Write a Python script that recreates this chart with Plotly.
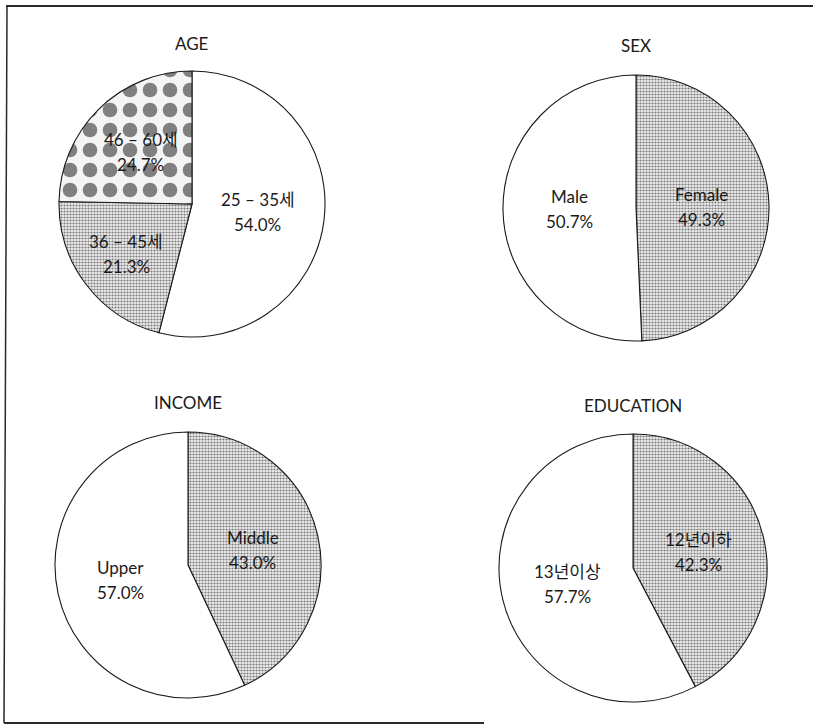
import math
import plotly.graph_objects as go

W, H = 813, 728

# ---- data -----------------------------------------------------------------
titles = ["AGE", "SEX", "INCOME", "EDUCATION"]

age_labels = ["25 – 35세", "36 – 45세", "46 – 60세"]
age_values = [54.0, 21.3, 24.7]

sex_labels = ["Female", "Male"]
sex_values = [49.3, 50.7]

income_labels = ["Middle", "Upper"]
income_values = [43.0, 57.0]

edu_labels = ["12년이하", "13년이상"]
edu_values = [42.3, 57.7]

# ---- styling / placement ---------------------------------------------------
FONT = "Lato, 'Noto Sans CJK KR', sans-serif"
LINE_GAP = 25  # px between the name line and the percentage line

# fill style per slice: plain white, fine stipple, or large dots
fills = {
    "AGE": ["plain", "stipple", "dots"],
    "SEX": ["stipple", "plain"],
    "INCOME": ["stipple", "plain"],
    "EDUCATION": ["stipple", "plain"],
}

# panel geometry in pixels: pie centre, radius, title position
panels = {
    "AGE": dict(cx=192, cy=204, r=133, ty=43),
    "SEX": dict(cx=636, cy=208, r=133, ty=45),
    "INCOME": dict(cx=188, cy=565, r=133, ty=402),
    "EDUCATION": dict(cx=633, cy=568, r=134, ty=405),
}

# radial position of each slice label as a fraction of the radius
label_r = {
    "AGE": [0.5, 0.62, 0.55],
    "SEX": [0.49, 0.5],
    "INCOME": [0.5, 0.52],
    "EDUCATION": [0.5, 0.5],
}

series = {
    "AGE": (age_labels, age_values),
    "SEX": (sex_labels, sex_values),
    "INCOME": (income_labels, income_values),
    "EDUCATION": (edu_labels, edu_values),
}


def px(x):
    return x / W


def py(y):
    return 1 - y / H


def pattern_for(kinds):
    shapes, sizes, solid, fg, bg = [], [], [], [], []
    for k in kinds:
        if k == "plain":
            shapes.append(""); sizes.append(8); solid.append(0.3)
            fg.append("#ffffff"); bg.append("#ffffff")
        elif k == "stipple":
            shapes.append("."); sizes.append(3); solid.append(0.42)
            fg.append("#7c7c7c"); bg.append("#eeeeee")
        else:
            shapes.append("."); sizes.append(20); solid.append(0.42)
            fg.append("#808080"); bg.append("#f4f4f4")
    return dict(shape=shapes, size=sizes, solidity=solid,
                fgcolor=fg, bgcolor=bg, fillmode="replace")


def text_ann(x, y, text):
    return dict(
        x=px(x), y=py(y), xref="paper", yref="paper",
        text=text, showarrow=False, xanchor="center", yanchor="middle",
        font=dict(family=FONT, size=17, color="#1a1a1a"),
    )


fig = go.Figure()
annotations = []

for name in titles:
    labels, values = series[name]
    g = panels[name]
    cx, cy, r = g["cx"], g["cy"], g["r"]

    fig.add_trace(go.Pie(
        labels=labels,
        values=values,
        sort=False,
        direction="clockwise",
        rotation=0,
        textinfo="none",
        hoverinfo="label+value",
        marker=dict(
            colors=["#ffffff"] * len(values),
            line=dict(color="#1a1a1a", width=1.1),
            pattern=pattern_for(fills[name]),
        ),
        domain=dict(x=[px(cx - r), px(cx + r)], y=[py(cy + r), py(cy - r)]),
        showlegend=False,
    ))

    # panel title
    annotations.append(text_ann(cx, g["ty"], name))

    # slice labels placed along each slice's bisector
    total = sum(values)
    start = 0.0
    for i, (lab, val) in enumerate(zip(labels, values)):
        span = 360.0 * val / total
        mid = math.radians(start + span / 2)
        k = label_r[name][i]
        lx = cx + k * r * math.sin(mid)
        ly = cy - k * r * math.cos(mid)
        annotations.append(text_ann(lx, ly - LINE_GAP / 2, lab))
        annotations.append(text_ann(lx, ly + LINE_GAP / 2, f"{val:.1f}%"))
        start += span

# page frame
frame = [
    dict(x0=6, y0=6, x1=813, y1=6, w=1.8),
    dict(x0=7, y0=6, x1=4, y1=723, w=1.5),
    dict(x0=4, y0=723, x1=484, y1=723, w=2.0),
]
shapes = [
    dict(type="line", xref="paper", yref="paper",
         x0=px(f["x0"]), y0=py(f["y0"]), x1=px(f["x1"]), y1=py(f["y1"]),
         line=dict(color="#2a2a2a", width=f["w"]))
    for f in frame
]

fig.update_layout(
    width=W, height=H,
    margin=dict(l=0, r=0, t=0, b=0),
    paper_bgcolor="#ffffff",
    plot_bgcolor="#ffffff",
    annotations=annotations,
    shapes=shapes,
)

fig.write_html("out.html")
